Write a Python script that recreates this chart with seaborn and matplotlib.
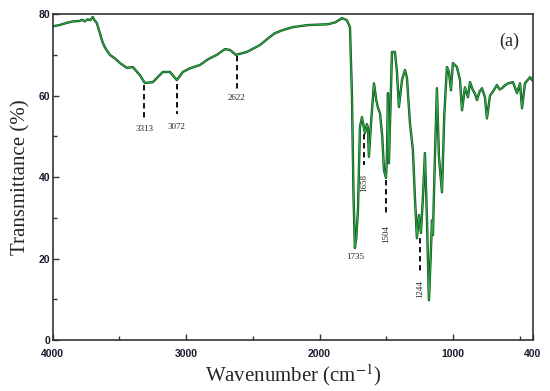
import numpy as np
import pandas as pd
import matplotlib
matplotlib.use('Agg')
import matplotlib.pyplot as plt
from matplotlib.ticker import MultipleLocator
import seaborn as sns

# FTIR spectrum
wavenumber = [4000, 3950, 3900, 3850, 3800, 3780, 3760, 3740, 3720, 3700, 3690, 3670,
              3647, 3625, 3600, 3572, 3530, 3497, 3445, 3400, 3347, 3310, 3250, 3175,
              3122, 3070, 3025, 2972, 2897, 2837, 2770, 2710, 2672, 2627, 2545, 2447,
              2372, 2335, 2282, 2200, 2087, 1937, 1880, 1832, 1795, 1772, 1757, 1745,
              1735, 1725, 1712, 1697, 1682, 1660, 1645, 1637, 1630, 1615, 1592, 1575,
              1562, 1547, 1530, 1517, 1502, 1495, 1487, 1480, 1457, 1435, 1420, 1405,
              1382, 1360, 1345, 1322, 1300, 1285, 1270, 1255, 1240, 1225, 1210, 1195,
              1180, 1165, 1157, 1150, 1135, 1120, 1105, 1082, 1065, 1045, 1030, 1015,
              1000, 970, 947, 932, 910, 887, 872, 850, 835, 820, 800, 782, 760, 745,
              722, 700, 670, 650, 632, 610, 587, 550, 535, 520, 497, 482, 460, 440,
              422, 407, 400]
transmittance = [77.0, 77.3, 77.8, 78.2, 78.3, 78.6, 78.2, 78.7, 78.5, 79.3, 78.6, 77.8,
                 75.3, 72.9, 71.3, 70.0, 69.0, 68.0, 66.8, 67.0, 65.0, 63.1, 63.3, 65.8,
                 65.8, 63.8, 65.8, 66.7, 67.5, 68.9, 70.0, 71.4, 71.2, 70.0, 70.7, 72.4,
                 74.4, 75.3, 76.0, 76.8, 77.3, 77.5, 78.0, 79.0, 78.5, 76.8, 60.0, 35.0,
                 22.6, 25.0, 32.0, 52.3, 54.7, 50.8, 53.0, 52.0, 45.0, 52.8, 63.0, 59.0,
                 57.0, 55.7, 50.0, 41.7, 39.8, 45.0, 60.6, 43.4, 70.7, 70.7, 66.0, 57.2,
                 63.8, 66.3, 64.5, 53.2, 46.6, 35.0, 25.0, 30.7, 26.3, 35.0, 45.9, 30.0,
                 9.8, 22.0, 29.4, 25.8, 45.0, 61.8, 45.0, 36.3, 55.0, 67.0, 65.8, 61.3,
                 68.0, 67.0, 63.8, 56.4, 62.0, 59.6, 63.3, 61.3, 60.5, 58.9, 61.0, 61.8,
                 59.6, 54.4, 60.0, 61.0, 62.6, 61.5, 61.8, 62.5, 63.0, 63.3, 62.0, 60.6,
                 63.0, 56.9, 63.0, 63.8, 64.5, 63.8, 64.2]

# band labels: position, dashed line top/bottom (None = no line), label y, rotation
bands = ['3313', '3072', '2622', '1735', '1658', '1504', '1244']
band_x = [3313, 3072, 2622, 1735, 1667, 1502, 1247]
band_line_top = [62.5, 62.9, 69.8, None, 50.5, 39.2, 25.0]
band_line_bot = [54.5, 55.5, 61.5, None, 43.0, 31.3, 16.5]
band_text_y = [51.7, 52.2, 59.5, 20.5, 38.5, 26.0, 12.5]
band_rot = [0, 0, 0, 0, 90, 90, 90]

df = pd.DataFrame({'wn': wavenumber, 'T': transmittance})

sns.set_theme(style='ticks')
plt.rcParams['font.family'] = ['Liberation Serif', 'DejaVu Serif']
plt.rcParams['mathtext.fontset'] = 'stix'

fig = plt.figure(figsize=(5.5, 3.91), dpi=100)
ax = fig.add_axes([0.096, 0.130, 0.873, 0.834])

sns.lineplot(data=df, x='wn', y='T', ax=ax, color='#0d4a16', lw=1.7, sort=False)
sns.lineplot(data=df, x='wn', y='T', ax=ax, color='#2eaa48', lw=0.8, sort=False)

for lab, x, t, b, ty, r in zip(bands, band_x, band_line_top, band_line_bot, band_text_y, band_rot):
    if t is not None:
        ax.plot([x, x], [t, b], color='black', lw=1.3, ls=(0, (3, 2)))
    ax.text(x, ty, lab, fontsize=6.5, rotation=r, ha='center', va='center')

ax.text(0.95, 0.915, '(a)', transform=ax.transAxes, fontsize=13, ha='center', va='center')

ax.set_xlim(4000, 400)
ax.set_ylim(0, 80)
ax.set_xticks([4000, 3000, 2000, 1000, 400])
ax.xaxis.set_minor_locator(MultipleLocator(500))
ax.yaxis.set_major_locator(MultipleLocator(20))
ax.yaxis.set_minor_locator(MultipleLocator(10))
ax.tick_params(which='both', direction='in', width=1.0, color='#333333')
ax.tick_params(which='major', length=4, labelsize=7.5, pad=2)
ax.tick_params(axis='x', which='major', pad=6)
ax.tick_params(which='minor', length=3)
for lbl in ax.get_xticklabels() + ax.get_yticklabels():
    lbl.set_fontfamily('Liberation Sans')
    lbl.set_fontweight('bold')
    lbl.set_color('#1a1a2e')
for s in ax.spines.values():
    s.set_linewidth(1.2)
    s.set_color('#333333')

ax.set_xlabel('Wavenumber (cm$^{\u22121}$)', fontsize=15, labelpad=3)
ax.set_ylabel('Transmittance (%)', fontsize=15, labelpad=6)

fig.savefig('out.png', dpi=100)
